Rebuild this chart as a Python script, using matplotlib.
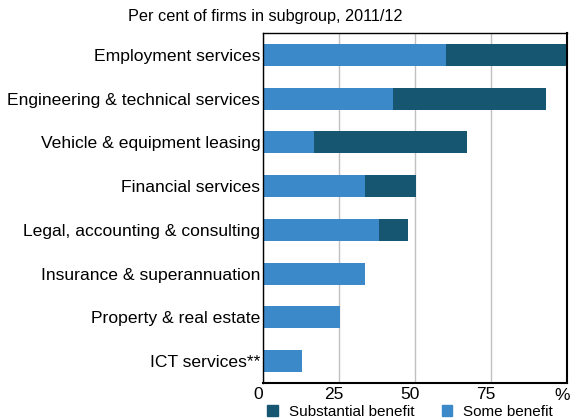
import matplotlib
matplotlib.use("Agg")
import matplotlib.pyplot as plt
import matplotlib.transforms as mtransforms
from matplotlib.patches import Patch

plt.rcParams['font.family'] = ['Liberation Sans', 'DejaVu Sans']

categories = ["Employment services", "Engineering & technical services",
              "Vehicle & equipment leasing", "Financial services",
              "Legal, accounting & consulting", "Insurance & superannuation",
              "Property & real estate", "ICT services**"]
some_benefit = [60.1, 42.7, 16.7, 33.4, 38.1, 33.4, 25.2, 12.7]
substantial_benefit = [39.9, 50.3, 50.3, 16.8, 9.5, 0, 0, 0]
xticks = [0, 25, 50, 75]

c_some = '#3c89c9'
c_sub = '#165670'

fig = plt.figure(figsize=(5.7, 4.19), dpi=100)
ax = fig.add_axes([263/570, 1-383/419, (567-263)/570, (383-33)/419])

ypos = list(range(len(categories)))
ax.barh(ypos, some_benefit, height=0.5, color=c_some, zorder=2)
ax.barh(ypos, substantial_benefit, left=some_benefit, height=0.5, color=c_sub, zorder=2)

ax.set_ylim(len(categories) - 0.5, -0.5)
ax.set_xlim(0, 100)
ax.set_yticks(ypos)
ax.set_yticklabels(categories, fontsize=12.6)
ax.set_xticks(xticks)
ax.set_xticklabels([str(t) for t in xticks], fontsize=12.5)
ax.tick_params(axis='y', length=0, pad=2)
ax.tick_params(axis='x', length=0, pad=3)
offset = mtransforms.ScaledTranslation(-5/100, 0, fig.dpi_scale_trans)
for lbl in ax.get_xticklabels():
    lbl.set_transform(lbl.get_transform() + offset)
ax.grid(axis='x', color='#c0c0c0', linewidth=1, zorder=0)
for s in ax.spines.values():
    s.set_color('black')
    s.set_linewidth(1)
ax.spines['bottom'].set_linewidth(1.5)
ax.spines['right'].set_linewidth(1.5)

fig.text(562/570, 1-395/419, '%', fontsize=12.5, ha='center', va='center')
fig.text(265/570, 1-17/419, 'Per cent of firms in subgroup, 2011/12', fontsize=11.7, ha='center', va='center')

handles = [Patch(color=c_sub, label='Substantial benefit'),
           Patch(color=c_some, label='Some benefit')]
fig.legend(handles=handles, loc='center', bbox_to_anchor=(410/570, 1-411.5/419),
           ncol=2, frameon=False, fontsize=11, handlelength=0.7, handleheight=0.7,
           columnspacing=1.8, handletextpad=0.7, borderpad=0, borderaxespad=0)

fig.savefig('out.png', dpi=100)
